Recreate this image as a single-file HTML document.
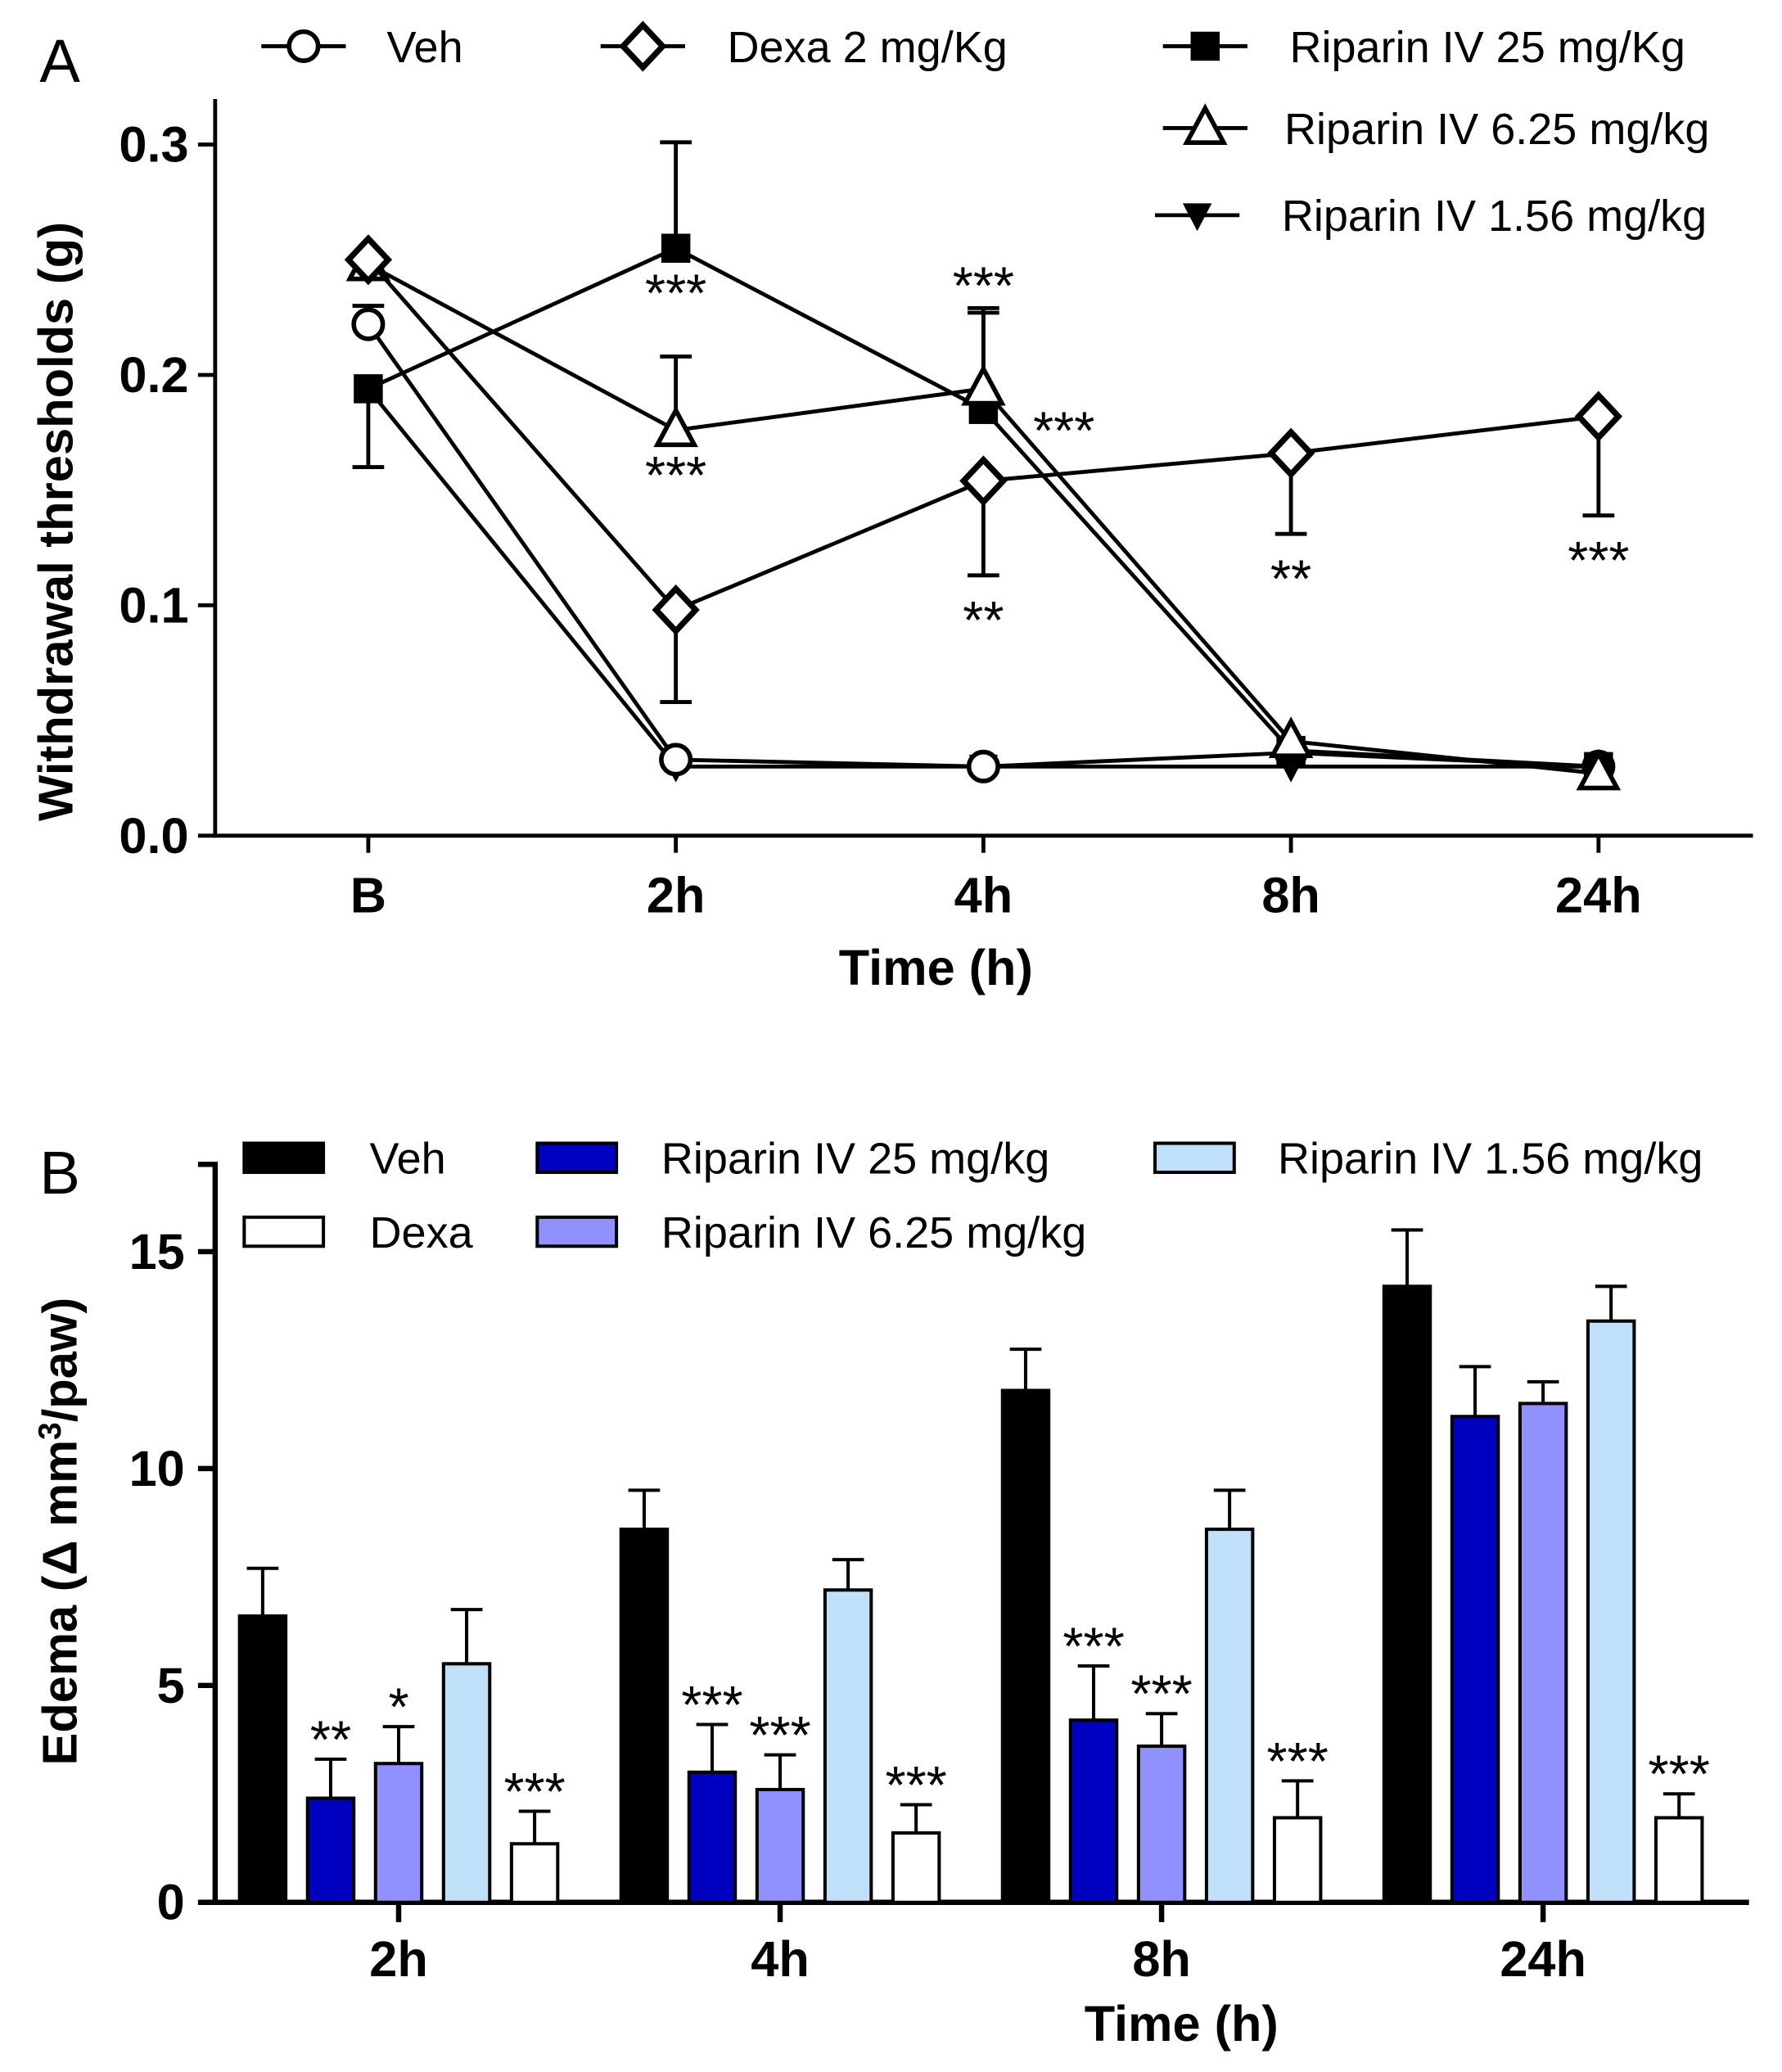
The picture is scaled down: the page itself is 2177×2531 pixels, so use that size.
<!DOCTYPE html>
<html><head><meta charset="utf-8"><style>
html,body{margin:0;padding:0;background:#fff}
svg{display:block}
text{font-family:"Liberation Sans",Arial,sans-serif;fill:#000}
.b{font-weight:bold}
</style></head><body>
<svg id="fig" width="2177" height="2531" viewBox="0 0 1350 1569.5" xmlns="http://www.w3.org/2000/svg">
<g id="pa"></g>
<g id="pb"></g>
</svg>
<script>
// ---------- Panel A data ----------
const timesA = ["B","2h","4h","8h","24h"];
const vehA = [0.222,0.033,0.030,0.036,0.030];
const dexaA = [0.250,0.098,0.154,0.166,0.182];
const rip25A = [0.194,0.255,0.185,0.037,0.030];
const rip625A = [0.248,0.176,0.194,0.041,0.027];
const rip156A = [0.194,0.030,0.030,0.030,0.030];
const vehErrA = [0.008,0,0,0,0];
const dexaErrA = [0,-0.040,-0.041,-0.035,-0.043];
const rip25ErrA = [-0.034,0.046,0.044,0,0];
const rip625ErrA = [0,0.032,0.033,0,0];
const yTicksA = [0.0,0.1,0.2,0.3];
const yTickLabelsA = ["0.0","0.1","0.2","0.3"];
const sigA = [["***",1,0.255,"below"],["***",1,0.176,"below"],["***",2,0.229,"above"],["***",2,0.185,"right"],["**",2,0.113,"below"],["**",3,0.131,"below"],["***",4,0.139,"below"]];

// ---------- Panel B data ----------
const groupsB = ["2h","4h","8h","24h"];
const seriesNamesB = ["Veh","Riparin IV 25 mg/kg","Riparin IV 6.25 mg/kg","Riparin IV 1.56 mg/kg","Dexa"];
const vehB = [6.6,8.6,11.8,14.2];
const rip25B = [2.4,3.0,4.2,11.2];
const rip625B = [3.2,2.6,3.6,11.5];
const rip156B = [5.5,7.2,8.6,13.4];
const dexaB = [1.35,1.6,1.95,1.95];
const vehErrB = [1.1,0.9,0.95,1.3];
const rip25ErrB = [0.9,1.1,1.25,1.15];
const rip625ErrB = [0.85,0.8,0.75,0.5];
const rip156ErrB = [1.25,0.7,0.9,0.8];
const dexaErrB = [0.75,0.65,0.85,0.55];
const sigB = [["","**","*","","***"],["","***","***","","***"],["","***","***","","***"],["","","","","***"]];
const yTicksB = [0,5,10,15];

const NS="http://www.w3.org/2000/svg";
function mk(parent,tag,attrs,txt){const e=document.createElementNS(NS,tag);for(const k in attrs)e.setAttribute(k,attrs[k]);if(txt!==undefined)e.textContent=txt;parent.appendChild(e);return e;}

// ===== Panel A =====
const pa=document.getElementById('pa');
const xA=i=>279+i*233;
const yA=v=>633-v*1745;
let t=mk(pa,'text',{x:30,y:62,'font-size':46});t.textContent='A';


let ax=mk(pa,'path',{d:'M163 75 V633 H1328',stroke:'#000','stroke-width':3,fill:'none'});


yTicksA.forEach((v,i)=>{
  mk(pa,'line',{x1:150,x2:163,y1:yA(v),y2:yA(v),stroke:'#000','stroke-width':3});
  const l=mk(pa,'text',{x:143,y:yA(v)+13,'font-size':38,'text-anchor':'end',class:'b'},yTickLabelsA[i]);
  
  
});
timesA.forEach((c,i)=>{
  mk(pa,'line',{x1:xA(i),x2:xA(i),y1:633,y2:646,stroke:'#000','stroke-width':3});
  const l=mk(pa,'text',{x:xA(i),y:691,'font-size':38,'text-anchor':'middle',class:'b'},c);
  
  
});
t=mk(pa,'text',{x:709,y:746,'font-size':38,'text-anchor':'middle',class:'b'},'Time (h)');


t=mk(pa,'text',{x:0,y:0,'font-size':37,'text-anchor':'middle',class:'b',transform:'translate(55,395) rotate(-90)'},'Withdrawal thresholds (g)');



function marker(g,type,cx,cy){
  const s={stroke:'#000','stroke-width':3.5};
  if(type==='circle')return mk(g,'circle',Object.assign({cx:cx,cy:cy,r:11,fill:'#fff'},s));
  if(type==='diamond')return mk(g,'path',Object.assign({d:`M${cx} ${cy-16} L${cx+15} ${cy} L${cx} ${cy+16} L${cx-15} ${cy}Z`,fill:'#fff','stroke-width':4.5},{stroke:'#000'}));
  if(type==='square')return mk(g,'rect',{x:cx-11,y:cy-11,width:22,height:22,fill:'#000'});
  if(type==='tri')return mk(g,'path',Object.assign({d:`M${cx} ${cy-15} L${cx+14} ${cy+11} L${cx-14} ${cy+11}Z`,fill:'#fff'},s));
  if(type==='trid')return mk(g,'path',{d:`M${cx-11} ${cy-9} L${cx+11} ${cy-9} L${cx} ${cy+12}Z`,fill:'#000'});
}
const seriesA=[
 ['rip156',rip156A,[0,0,0,0,0],'trid'],
 ['veh',vehA,vehErrA,'circle'],
 ['rip25',rip25A,rip25ErrA,'square'],
 ['rip625',rip625A,rip625ErrA,'tri'],
 ['dexa',dexaA,dexaErrA,'diamond']
];
seriesA.forEach(([nm,vals,errs,type])=>{
  const g=mk(pa,'g',{});
  
  
  vals.forEach((v,i)=>{
    if(errs[i]){
      const e=v+errs[i];
      mk(g,'line',{x1:xA(i),x2:xA(i),y1:yA(v),y2:yA(e),stroke:'#000','stroke-width':3});
      mk(g,'line',{x1:xA(i)-12,x2:xA(i)+12,y1:yA(e),y2:yA(e),stroke:'#000','stroke-width':3});
    }
  });
  const p=mk(g,'polyline',{points:vals.map((v,i)=>xA(i)+','+yA(v)).join(' '),fill:'none',stroke:'#000','stroke-width':3});
  
  
  vals.forEach((v,i)=>{
    const m=marker(g,type,xA(i),yA(v));
    
    
  });
});
sigA.forEach(([s,i,v,pos])=>{
  let x=xA(i),y=yA(v);
  if(pos==='below')y+=48; else if(pos==='above')y-=3; else {x+=61;y+=30;}
  const l=mk(pa,'text',{x:x,y:y,'font-size':40,'text-anchor':'middle'},s);
  
  
});
// legend A
const legA=[['Veh','circle',230,35,293],['Dexa 2 mg/Kg','diamond',487,35,551],['Riparin IV 25 mg/Kg','square',913,35,977],['Riparin IV 6.25 mg/kg','tri',913,97,973],['Riparin IV 1.56 mg/kg','trid',907,163,971]];
legA.forEach(([lab,type,cx,cy,tx])=>{
  const g=mk(pa,'g',{});
  
  
  mk(g,'line',{x1:cx-32,x2:cx+32,y1:cy,y2:cy,stroke:'#000','stroke-width':3});
  marker(g,type,cx,cy);
  mk(g,'text',{x:tx,y:cy+12,'font-size':33.5},lab);
});

// ===== Panel B =====
const pb=document.getElementById('pb');
const gx=i=>302+i*289;
const yB=v=>1441-v*32.86;
const fills=['#000','#0000c0','#9090ff','#c0e0fa','#fff'];
const valsB=[vehB,rip25B,rip625B,rip156B,dexaB];
const errsB=[vehErrB,rip25ErrB,rip625ErrB,rip156ErrB,dexaErrB];
t=mk(pb,'text',{x:30,y:904,'font-size':46},'B');


ax=mk(pb,'path',{d:'M150 882 H163 V1441 H1325',stroke:'#000','stroke-width':4,fill:'none'});


yTicksB.forEach(v=>{
  mk(pb,'line',{x1:150,x2:163,y1:yB(v),y2:yB(v),stroke:'#000','stroke-width':4});
  const l=mk(pb,'text',{x:140,y:yB(v)+13,'font-size':38,'text-anchor':'end',class:'b'},String(v));
  
  
});
groupsB.forEach((c,i)=>{
  mk(pb,'line',{x1:gx(i),x2:gx(i),y1:1441,y2:1456,stroke:'#000','stroke-width':4});
  const l=mk(pb,'text',{x:gx(i),y:1497,'font-size':38,'text-anchor':'middle',class:'b'},c);
  
  
  valsB.forEach((vals,s)=>{
    const cx=gx(i)+(s-2)*51.5, v=vals[i], e=v+errsB[s][i];
    mk(pb,'line',{x1:cx,x2:cx,y1:yB(v),y2:yB(e),stroke:'#000','stroke-width':2.5});
    mk(pb,'line',{x1:cx-12,x2:cx+12,y1:yB(e),y2:yB(e),stroke:'#000','stroke-width':2.5});
    const r=mk(pb,'rect',{x:cx-17.5,y:yB(v),width:35,height:1441-yB(v),fill:fills[s],stroke:'#000','stroke-width':2.5});
    
    
    if(sigB[i][s]){
      const l2=mk(pb,'text',{x:cx,y:yB(e)-1,'font-size':40,'text-anchor':'middle'},sigB[i][s]);
      
      
    }
  });
});
t=mk(pb,'text',{x:895,y:1546,'font-size':38,'text-anchor':'middle',class:'b'},'Time (h)');


t=mk(pb,'text',{x:0,y:0,'font-size':37,'text-anchor':'middle',class:'b',transform:'translate(58,1160) rotate(-90)'});
t.innerHTML='Edema (Δ mm<tspan dy="-12" font-size="24">3</tspan><tspan dy="12">/paw)</tspan>';


const legB=[[0,185,877,280],[1,407,877,501],[3,875,877,968],[4,185,933,280],[2,407,933,501]];
legB.forEach(([s,rx,cy,tx])=>{
  const g=mk(pb,'g',{});
  
  
  mk(g,'rect',{x:rx,y:cy-11,width:60,height:22,fill:fills[s],stroke:'#000','stroke-width':2.5});
  mk(g,'text',{x:tx,y:cy+12,'font-size':33.5},s===4?'Dexa':seriesNamesB[s]);
});
</script>
</body></html>
